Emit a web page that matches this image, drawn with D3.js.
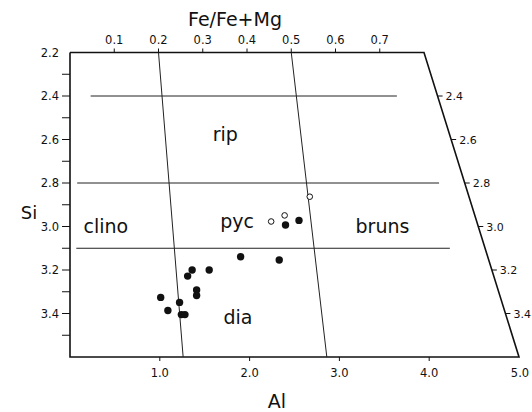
<!DOCTYPE html>
<html>
<head>
<meta charset="utf-8">
<script src="https://cdn.jsdelivr.net/npm/d3@7"></script>
<style>
  body { margin: 0; background: #fff; }
  text { font-family: "DejaVu Sans", sans-serif; fill: #111; }
</style>
</head>
<body>
<div id="chart"></div>
<script>
// tick values
const alTicks = [1.0, 2.0, 3.0, 4.0, 5.0];
const feTicks = [0.1, 0.2, 0.3, 0.4, 0.5, 0.6, 0.7];
const siTicks = [2.3, 2.4, 2.5, 2.6, 2.7, 2.8, 2.9, 3.0, 3.1, 3.2, 3.3, 3.4, 3.5];
const siLabels = [2.2, 2.4, 2.6, 2.8, 3.0, 3.2, 3.4];
const siRightLabels = [2.4, 2.6, 2.8, 3.0, 3.2, 3.4];

// horizontal field boundaries: Si value and Al extent
const hLines = [
  {si: 2.4, al0: 0.23, al1: 3.64},
  {si: 2.8, al0: 0.08, al1: 4.11},
  {si: 3.1, al0: 0.07, al1: 4.23}
];
// slanted boundaries: Fe/Fe+Mg at top, Al at bottom
const sLines = [
  {fe: 0.2, al: 1.26},
  {fe: 0.5, al: 2.86}
];

// field names
const fields = [
  {name: "rip", al: 1.73, si: 2.58},
  {name: "clino", al: 0.40, si: 3.00},
  {name: "pyc", al: 1.86, si: 2.98},
  {name: "bruns", al: 3.48, si: 3.00},
  {name: "dia", al: 1.87, si: 3.42}
];

// analyses (Al, Si)
const filledPts = [
  [1.90, 3.139], [2.33, 3.154], [1.36, 3.20], [1.55, 3.20], [1.31, 3.228],
  [1.41, 3.292], [1.41, 3.317], [1.01, 3.326], [1.22, 3.349], [1.09, 3.386],
  [1.24, 3.405], [1.28, 3.405], [2.40, 2.993], [2.55, 2.972]
];
const openPts = [
  [2.24, 2.977], [2.39, 2.949], [2.67, 2.863]
];

const w = 532, h = 412;

const x = d3.scaleLinear().domain([0, 5]).range([70, 519]);
const xTop = d3.scaleLinear().domain([0, 0.8]).range([70, 424]);
const y = d3.scaleLinear().domain([2.2, 3.6]).range([52.5, 357]);

// x of right edge at a given Si
const rightX = si => {
  const t = (y(si) - y(2.2)) / (y(3.6) - y(2.2));
  return xTop(0.8) + t * (x(5) - xTop(0.8));
};

const svg = d3.select("#chart")
  .append("svg")
  .attr("width", w)
  .attr("height", h);

// frame
svg.append("path")
  .attr("d", d3.line()([
    [x(0), y(2.2)], [xTop(0.8), y(2.2)], [x(5), y(3.6)], [x(0), y(3.6)], [x(0), y(2.2)]
  ]))
  .attr("fill", "none")
  .attr("stroke", "#111")
  .attr("stroke-width", 1.6);

// field boundaries
svg.append("g")
  .selectAll("line")
  .data(hLines)
  .enter()
  .append("line")
  .attr("x1", d => x(d.al0))
  .attr("x2", d => x(d.al1))
  .attr("y1", d => y(d.si))
  .attr("y2", d => y(d.si))
  .attr("stroke", "#222")
  .attr("stroke-width", 1);

svg.append("g")
  .selectAll("line")
  .data(sLines)
  .enter()
  .append("line")
  .attr("x1", d => xTop(d.fe))
  .attr("x2", d => x(d.al))
  .attr("y1", y(2.2))
  .attr("y2", y(3.6))
  .attr("stroke", "#222")
  .attr("stroke-width", 1);

// bottom axis
const gBottom = svg.append("g").attr("transform", `translate(0, ${y(3.6)})`);
gBottom.selectAll("line")
  .data(alTicks.slice(0, 4))
  .enter()
  .append("line")
  .attr("x1", d => x(d)).attr("x2", d => x(d))
  .attr("y1", 0).attr("y2", 4)
  .attr("stroke", "#111");
gBottom.selectAll("text")
  .data(alTicks)
  .enter()
  .append("text")
  .attr("x", d => d === 5 ? x(d) + 1 : x(d))
  .attr("y", 20)
  .attr("text-anchor", "middle")
  .attr("font-size", 11.5)
  .text(d => d.toFixed(1));

// top axis
const gTop = svg.append("g").attr("transform", `translate(0, ${y(2.2)})`);
gTop.selectAll("line")
  .data(feTicks)
  .enter()
  .append("line")
  .attr("x1", d => xTop(d)).attr("x2", d => xTop(d))
  .attr("y1", 0).attr("y2", -4)
  .attr("stroke", "#111");
gTop.selectAll("text")
  .data(feTicks)
  .enter()
  .append("text")
  .attr("x", d => xTop(d))
  .attr("y", -9)
  .attr("text-anchor", "middle")
  .attr("font-size", 11.5)
  .text(d => d.toFixed(1));

// left axis
const gLeft = svg.append("g").attr("transform", `translate(${x(0)}, 0)`);
gLeft.selectAll("line")
  .data(siTicks)
  .enter()
  .append("line")
  .attr("x1", 0).attr("x2", -8)
  .attr("y1", d => y(d)).attr("y2", d => y(d))
  .attr("stroke", "#111");
gLeft.selectAll("text")
  .data(siLabels)
  .enter()
  .append("text")
  .attr("x", -11)
  .attr("y", d => y(d) + 4)
  .attr("text-anchor", "end")
  .attr("font-size", 11.5)
  .text(d => d.toFixed(1));

// right (slanted) axis
const gRight = svg.append("g");
gRight.selectAll("line")
  .data(siRightLabels)
  .enter()
  .append("line")
  .attr("x1", d => rightX(d)).attr("x2", d => rightX(d) + 5)
  .attr("y1", d => y(d)).attr("y2", d => y(d))
  .attr("stroke", "#111");
gRight.selectAll("text")
  .data(siRightLabels)
  .enter()
  .append("text")
  .attr("x", d => rightX(d) + 8)
  .attr("y", d => y(d) + 4)
  .attr("font-size", 11)
  .text(d => d.toFixed(1));

// axis titles
svg.append("text")
  .attr("x", 235).attr("y", 26)
  .attr("text-anchor", "middle")
  .attr("font-size", 19)
  .text("Fe/Fe+Mg");
svg.append("text")
  .attr("x", 29).attr("y", 219)
  .attr("text-anchor", "middle")
  .attr("font-size", 18)
  .text("Si");
svg.append("text")
  .attr("x", 277).attr("y", 408)
  .attr("text-anchor", "middle")
  .attr("font-size", 19)
  .text("Al");

// field names
svg.append("g")
  .selectAll("text")
  .data(fields)
  .enter()
  .append("text")
  .attr("x", d => x(d.al))
  .attr("y", d => y(d.si) + 6)
  .attr("text-anchor", "middle")
  .attr("font-size", 19)
  .text(d => d.name);

// points
svg.append("g")
  .selectAll("circle")
  .data(filledPts)
  .enter()
  .append("circle")
  .attr("cx", d => x(d[0]))
  .attr("cy", d => y(d[1]))
  .attr("r", 3.7)
  .attr("fill", "#111");

svg.append("g")
  .selectAll("circle")
  .data(openPts)
  .enter()
  .append("circle")
  .attr("cx", d => x(d[0]))
  .attr("cy", d => y(d[1]))
  .attr("r", 2.8)
  .attr("fill", "#fff")
  .attr("stroke", "#111")
  .attr("stroke-width", 1);
</script>
</body>
</html>
